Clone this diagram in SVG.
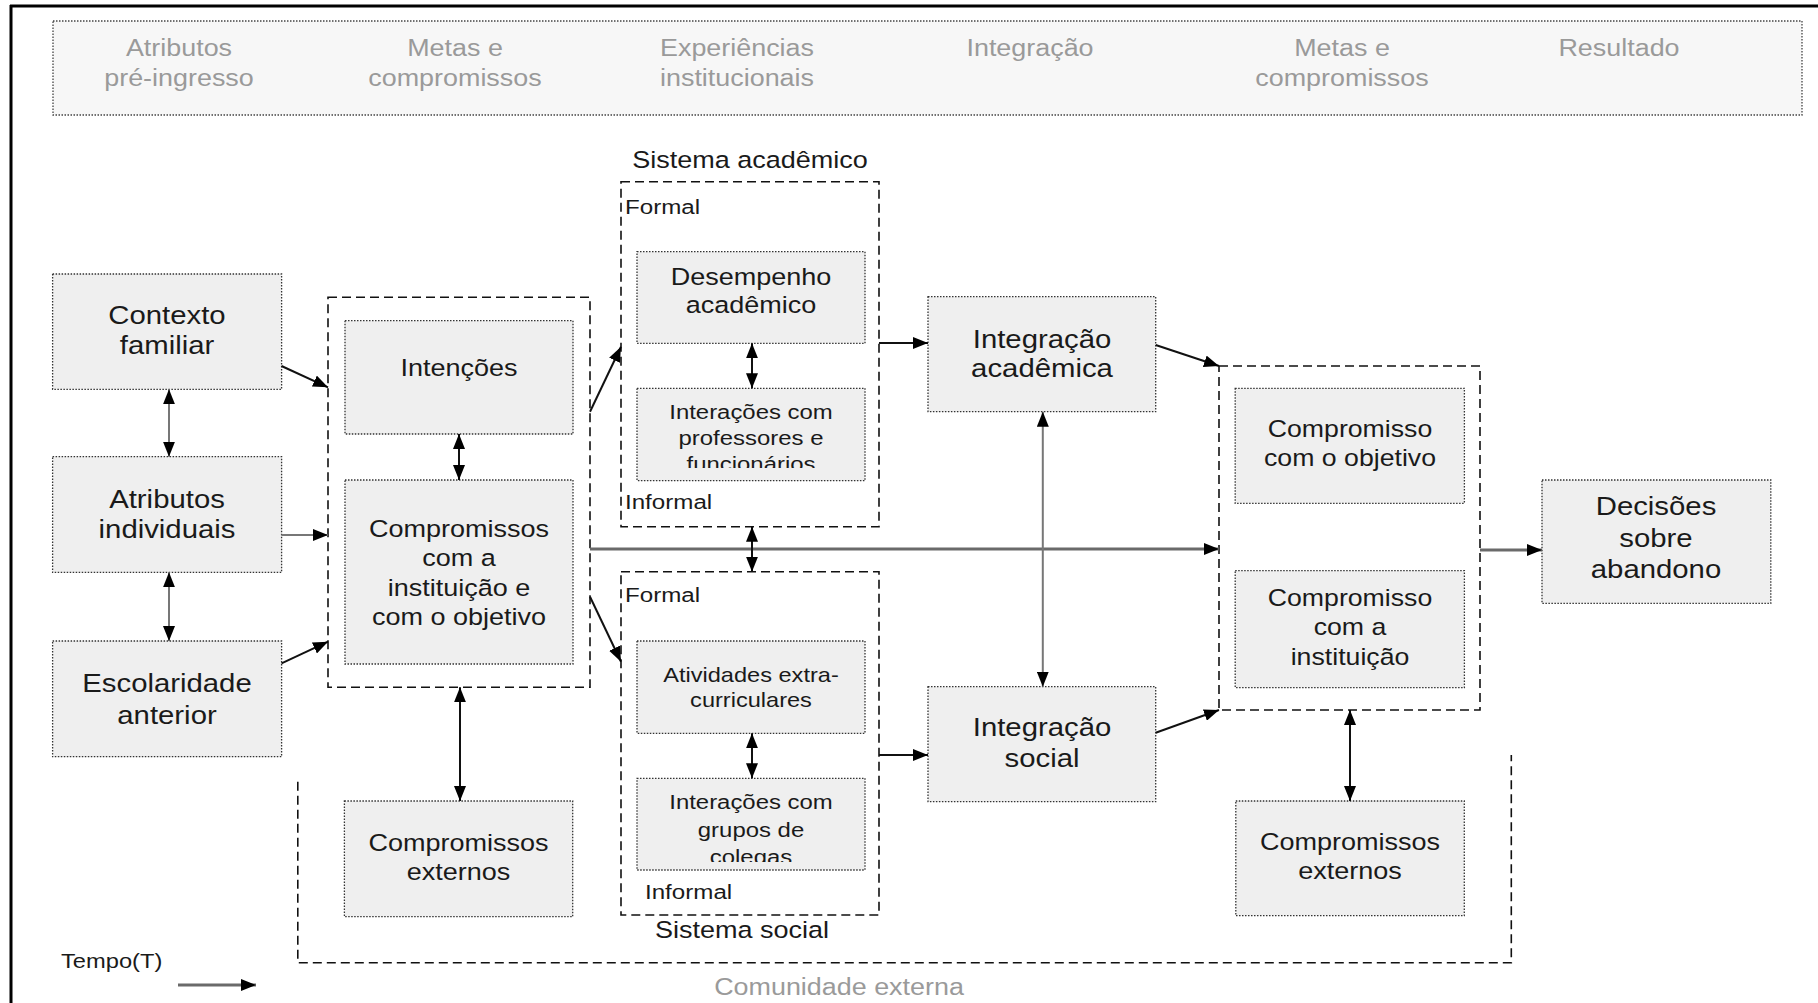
<svg xmlns="http://www.w3.org/2000/svg" width="1818" height="1003" viewBox="0 0 1818 1003">
<style>
  .bg { fill: #ffffff; }
  .frame { stroke: #000; stroke-width: 3; fill: none; }
  .node { fill: #efefef; stroke: #333; stroke-width: 1.3; stroke-dasharray: 1.5 1.5; }
  .hdr { fill: #f7f7f7; stroke: #444; stroke-width: 1.3; stroke-dasharray: 1.5 1.5; }
  .grp { fill: none; stroke: #111; stroke-width: 1.6; stroke-dasharray: 9 5; }
  .t { font-family: "Liberation Sans", Arial, sans-serif; fill: #1a1a1a; text-anchor: middle; }
  .tl { font-family: "Liberation Sans", Arial, sans-serif; fill: #1a1a1a; text-anchor: start; }
  .h { font-family: "Liberation Sans", Arial, sans-serif; fill: #9a9a9a; text-anchor: middle; font-size: 23.4px; }
  .f255 { font-size: 25.5px; }
  .f235 { font-size: 23.5px; }
  .f232 { font-size: 23.2px; }
  .f21 { font-size: 21px; }
  .f208 { font-size: 20.8px; }
  .f205 { font-size: 20.5px; }
  .c { stroke: #111; stroke-width: 2; fill: none; }
  .cg { stroke: #6a6a6a; stroke-width: 3; fill: none; }
  .cg2 { stroke: #777; stroke-width: 2; fill: none; }
</style>
<defs>
  <marker id="ah" markerUnits="userSpaceOnUse" markerWidth="16" markerHeight="12" refX="15" refY="6" orient="auto-start-reverse">
    <path d="M0,0 L15,6 L0,12 z" fill="#000"/>
  </marker>
  <clipPath id="clipA"><rect x="637" y="388" width="228" height="80"/></clipPath>
  <clipPath id="clipB"><rect x="637" y="778" width="228" height="84"/></clipPath>
</defs>

<rect class="bg" x="0" y="0" width="1818" height="1003"/>
<g id="frame">
  <line class="frame" x1="10" y1="6" x2="1818" y2="6"/>
  <line class="frame" x1="11" y1="5" x2="11" y2="1003"/>
</g>

<g id="header">
  <rect class="hdr" x="53" y="21" width="1749" height="94"/>
  <g transform="matrix(1.15 0 0 1 179 0)"><text class="h" x="0" y="56">Atributos</text><text class="h" x="0" y="86">pré-ingresso</text></g>
  <g transform="matrix(1.15 0 0 1 455 0)"><text class="h" x="0" y="56">Metas e</text><text class="h" x="0" y="86">compromissos</text></g>
  <g transform="matrix(1.15 0 0 1 737 0)"><text class="h" x="0" y="56">Experiências</text><text class="h" x="0" y="86">institucionais</text></g>
  <g transform="matrix(1.15 0 0 1 1030 0)"><text class="h" x="0" y="56">Integração</text></g>
  <g transform="matrix(1.15 0 0 1 1342 0)"><text class="h" x="0" y="56">Metas  e</text><text class="h" x="0" y="86">compromissos</text></g>
  <g transform="matrix(1.15 0 0 1 1619 0)"><text class="h" x="0" y="56">Resultado</text></g>
</g>

<g id="comunidade-externa">
  <path class="grp" d="M297.8,781.7 V962.7 H1511.3 V755"/>
  <g transform="matrix(1.15 0 0 1 839 0)"><text class="h" x="0" y="995">Comunidade externa</text></g>
</g>

<g id="contexto-familiar">
  <rect class="node" x="52.6" y="274" width="229" height="115.3"/>
  <g transform="matrix(1.15 0 0 1 167 0)"><text class="t f255" x="0" y="324">Contexto</text><text class="t f255" x="0" y="354">familiar</text></g>
</g>
<g id="atributos-individuais">
  <rect class="node" x="52.6" y="456.7" width="229" height="115.6"/>
  <g transform="matrix(1.15 0 0 1 167 0)"><text class="t f255" x="0" y="508">Atributos</text><text class="t f255" x="0" y="538">individuais</text></g>
</g>
<g id="escolaridade-anterior">
  <rect class="node" x="52.6" y="641" width="229" height="115.7"/>
  <g transform="matrix(1.15 0 0 1 167 0)"><text class="t f255" x="0" y="692">Escolaridade</text><text class="t f255" x="0" y="724">anterior</text></g>
</g>

<g id="grupo-metas">
  <rect class="grp" x="328" y="297.3" width="262" height="390"/>
</g>
<g id="intencoes">
  <rect class="node" x="345" y="320.7" width="228" height="113.3"/>
  <g transform="matrix(1.15 0 0 1 459 0)"><text class="t f235" x="0" y="376">Intenções</text></g>
</g>
<g id="compromissos-instituicao-objetivo">
  <rect class="node" x="345" y="480" width="228" height="184"/>
  <g transform="matrix(1.15 0 0 1 459 0)"><text class="t f235" x="0" y="537">Compromissos</text><text class="t f235" x="0" y="566">com a</text><text class="t f235" x="0" y="596">instituição e</text><text class="t f235" x="0" y="625">com o objetivo</text></g>
</g>
<g id="compromissos-externos-1">
  <rect class="node" x="344.4" y="801" width="228.3" height="115.7"/>
  <g transform="matrix(1.15 0 0 1 458.5 0)"><text class="t f235" x="0" y="851">Compromissos</text><text class="t f235" x="0" y="880">externos</text></g>
</g>

<g id="sistema-academico">
  <rect class="grp" x="621" y="181.7" width="258" height="345"/>
  <g transform="matrix(1.15 0 0 1 750 0)"><text class="t f235" x="0" y="168">Sistema acadêmico</text></g>
  <g transform="matrix(1.15 0 0 1 625 0)"><text class="tl f21" x="0" y="214">Formal</text><text class="tl f21" x="0" y="509">Informal</text></g>
</g>
<g id="desempenho-academico">
  <rect class="node" x="637" y="251.7" width="228" height="91.6"/>
  <g transform="matrix(1.15 0 0 1 751 0)"><text class="t f235" x="0" y="285">Desempenho</text><text class="t f235" x="0" y="313">acadêmico</text></g>
</g>
<g id="interacoes-professores">
  <rect class="node" x="637" y="388.3" width="228" height="92.4"/>
  <g clip-path="url(#clipA)"><g transform="matrix(1.15 0 0 1 751 0)"><text class="t f208" x="0" y="419">Interações com</text><text class="t f208" x="0" y="445">professores e</text><text class="t f208" x="0" y="471">funcionários</text></g></g>
</g>

<g id="sistema-social">
  <rect class="grp" x="621" y="571.7" width="258" height="343.3"/>
  <g transform="matrix(1.15 0 0 1 742 0)"><text class="t f235" x="0" y="938">Sistema social</text></g>
  <g transform="matrix(1.15 0 0 1 625 0)"><text class="tl f21" x="0" y="602">Formal</text></g>
  <g transform="matrix(1.15 0 0 1 645 0)"><text class="tl f21" x="0" y="899">Informal</text></g>
</g>
<g id="atividades-extracurriculares">
  <rect class="node" x="637" y="641" width="228" height="92.3"/>
  <g transform="matrix(1.15 0 0 1 751 0)"><text class="t f205" x="0" y="682">Atividades extra-</text><text class="t f205" x="0" y="707">curriculares</text></g>
</g>
<g id="interacoes-colegas">
  <rect class="node" x="637" y="778.3" width="228" height="91.7"/>
  <g clip-path="url(#clipB)"><g transform="matrix(1.15 0 0 1 751 0)"><text class="t f208" x="0" y="809">Interações com</text><text class="t f208" x="0" y="837">grupos de</text><text class="t f208" x="0" y="864">colegas</text></g></g>
</g>

<g id="integracao-academica">
  <rect class="node" x="928" y="296.7" width="227.7" height="115"/>
  <g transform="matrix(1.15 0 0 1 1042 0)"><text class="t f255" x="0" y="348">Integração</text><text class="t f255" x="0" y="377">acadêmica</text></g>
</g>
<g id="integracao-social">
  <rect class="node" x="928" y="686.7" width="227.7" height="115"/>
  <g transform="matrix(1.15 0 0 1 1042 0)"><text class="t f255" x="0" y="736">Integração</text><text class="t f255" x="0" y="767">social</text></g>
</g>

<g id="grupo-metas-2">
  <rect class="grp" x="1219" y="366" width="261" height="344"/>
</g>
<g id="compromisso-objetivo">
  <rect class="node" x="1235.2" y="388.3" width="229.2" height="115"/>
  <g transform="matrix(1.15 0 0 1 1350 0)"><text class="t f232" x="0" y="437.5">Compromisso</text><text class="t f232" x="0" y="466.5">com o objetivo</text></g>
</g>
<g id="compromisso-instituicao">
  <rect class="node" x="1235.2" y="570.7" width="229.2" height="117"/>
  <g transform="matrix(1.15 0 0 1 1350 0)"><text class="t f232" x="0" y="606.5">Compromisso</text><text class="t f232" x="0" y="635.5">com a</text><text class="t f232" x="0" y="665">instituição</text></g>
</g>
<g id="compromissos-externos-2">
  <rect class="node" x="1235.8" y="801" width="228.5" height="114.7"/>
  <g transform="matrix(1.15 0 0 1 1350 0)"><text class="t f235" x="0" y="850">Compromissos</text><text class="t f235" x="0" y="879">externos</text></g>
</g>
<g id="decisoes-abandono">
  <rect class="node" x="1542" y="480" width="228.8" height="123.3"/>
  <g transform="matrix(1.15 0 0 1 1656 0)"><text class="t f255" x="0" y="515">Decisões</text><text class="t f255" x="0" y="547">sobre</text><text class="t f255" x="0" y="578">abandono</text></g>
</g>

<g id="tempo">
  <g transform="matrix(1.15 0 0 1 61 0)"><text class="tl" style="font-size:20.6px" x="0" y="968">Tempo(T)</text></g>
</g>

<g id="connectors">
  <line class="c" x1="281.5" y1="366" x2="328" y2="387.3" marker-end="url(#ah)"/>
  <line class="cg2" x1="281.5" y1="535" x2="328" y2="535" marker-end="url(#ah)"/>
  <line class="c" x1="281.5" y1="663.3" x2="328" y2="641.7" marker-end="url(#ah)"/>
  <line class="cg2" x1="169" y1="389.3" x2="169" y2="456.7" marker-start="url(#ah)" marker-end="url(#ah)"/>
  <line class="cg2" x1="169" y1="572.3" x2="169" y2="641" marker-start="url(#ah)" marker-end="url(#ah)"/>
  <line class="c" x1="459" y1="434" x2="459" y2="480" marker-start="url(#ah)" marker-end="url(#ah)"/>
  <line class="c" x1="460" y1="687.3" x2="460" y2="801" marker-start="url(#ah)" marker-end="url(#ah)"/>
  <line class="c" x1="590" y1="411.7" x2="621" y2="346.7" marker-end="url(#ah)"/>
  <line class="c" x1="590" y1="596.7" x2="621" y2="661.7" marker-end="url(#ah)"/>
  <line class="cg" x1="590" y1="549" x2="1219" y2="549" marker-end="url(#ah)"/>
  <line class="c" x1="752" y1="343.3" x2="752" y2="388.3" marker-start="url(#ah)" marker-end="url(#ah)"/>
  <line class="c" x1="752" y1="526.7" x2="752" y2="571.7" marker-start="url(#ah)" marker-end="url(#ah)"/>
  <line class="c" x1="752" y1="733.3" x2="752" y2="778.3" marker-start="url(#ah)" marker-end="url(#ah)"/>
  <line class="c" x1="879" y1="343" x2="928" y2="343" marker-end="url(#ah)"/>
  <line class="c" x1="879" y1="755" x2="928" y2="755" marker-end="url(#ah)"/>
  <line class="cg2" x1="1042.8" y1="411.7" x2="1042.8" y2="686.7" marker-start="url(#ah)" marker-end="url(#ah)"/>
  <line class="c" x1="1155.7" y1="345" x2="1219" y2="366" marker-end="url(#ah)"/>
  <line class="c" x1="1155.7" y1="732.7" x2="1219" y2="710" marker-end="url(#ah)"/>
  <line class="cg" x1="1480" y1="550" x2="1542" y2="550" marker-end="url(#ah)"/>
  <line class="c" x1="1350" y1="710" x2="1350" y2="801" marker-start="url(#ah)" marker-end="url(#ah)"/>
  <line class="cg" x1="178" y1="985" x2="256" y2="985" marker-end="url(#ah)"/>
</g>
</svg>
